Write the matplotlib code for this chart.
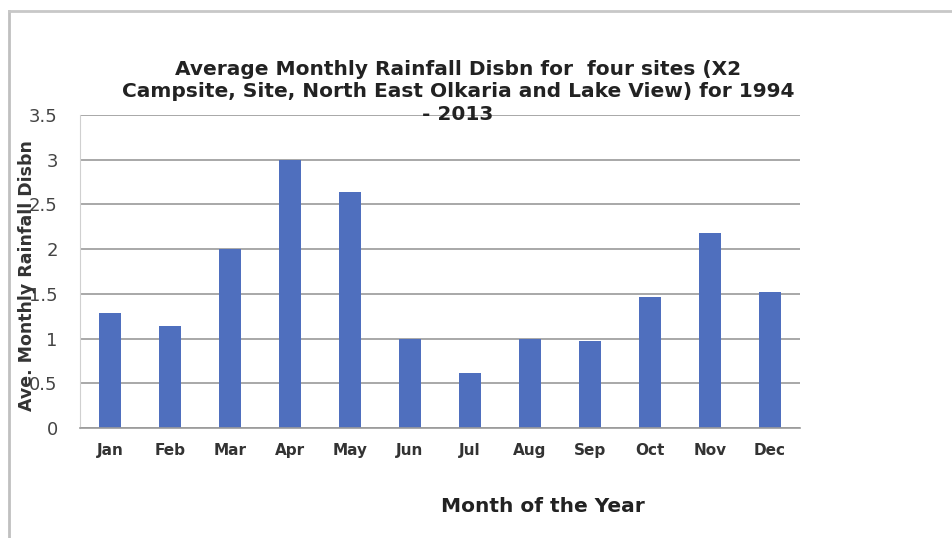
import matplotlib
matplotlib.use("Agg")
import matplotlib.pyplot as plt
from matplotlib.lines import Line2D

plt.rcParams["font.family"] = ["DejaVu Sans"]

MONTHS = ["Jan", "Feb", "Mar", "Apr", "May", "Jun", "Jul", "Aug", "Sep", "Oct", "Nov", "Dec"]
RAINFALL = [1.29, 1.14, 2.0, 3.0, 2.64, 1.0, 0.61, 1.0, 0.97, 1.46, 2.18, 1.52]
Y_TICKS = [0, 0.5, 1, 1.5, 2, 2.5, 3, 3.5]
Y_TICK_LABELS = ["0", "0.5", "1", "1.5", "2", "2.5", "3", "3.5"]

TITLE = ("Average Monthly Rainfall Disbn for  four sites (X2\n"
         "Campsite, Site, North East Olkaria and Lake View) for 1994\n"
         "- 2013")
BAR_COLOR = "#4f6fbe"
GRID_COLOR = "#9a9a9a"

fig = plt.figure(figsize=(9.52, 5.38), dpi=100)
ax = fig.add_axes([80 / 952, 1 - 428 / 538, 720 / 952, 313 / 538])

xs = range(len(MONTHS))
ax.bar(xs, RAINFALL, width=0.37, color=BAR_COLOR, zorder=2)
ax.set_xlim(-0.5, len(MONTHS) - 0.5)
ax.set_ylim(0, 3.5)
ax.set_yticks(Y_TICKS)
ax.set_yticklabels(Y_TICK_LABELS, fontsize=13, color="#444444")
ax.set_xticks(list(xs))
ax.set_xticklabels(MONTHS, fontsize=11, fontweight="bold", color="#333333")
ax.tick_params(axis="y", length=0, pad=16)
ax.tick_params(axis="x", length=0, pad=11)
ax.yaxis.grid(True, color=GRID_COLOR, linewidth=1.2, zorder=0)
ax.set_axisbelow(True)
for side in ("top", "right"):
    ax.spines[side].set_visible(False)
ax.spines["left"].set_color("#d0d0d0")
ax.spines["bottom"].set_color(GRID_COLOR)
ax.spines["bottom"].set_linewidth(1.2)

fig.text(458 / 952, 1 - 60 / 538, TITLE, ha="center", va="top", fontsize=14.5,
         fontweight="bold", color="#222222", linespacing=1.22, zorder=5)
# the reference's axis title sits over the tick labels
fig.text(27 / 952, 1 - 276 / 538, "Ave. Monthly Rainfall Disbn", rotation=90,
         ha="center", va="center", fontsize=12.5, fontweight="bold", color="#333333")
fig.text(543 / 952, 1 - 506 / 538, "Month of the Year", ha="center", va="center",
         fontsize=14.5, fontweight="bold", color="#222222")

# scanned chart frame (top and left edges)
fig.add_artist(Line2D([9 / 952, 9 / 952], [0, 1 - 11 / 538], color="#c0c0c0", linewidth=2,
                      transform=fig.transFigure))
fig.add_artist(Line2D([9 / 952, 1], [1 - 11 / 538, 1 - 11 / 538], color="#c8c8c8",
                      linewidth=2, transform=fig.transFigure))

fig.savefig("out.png", dpi=100)
